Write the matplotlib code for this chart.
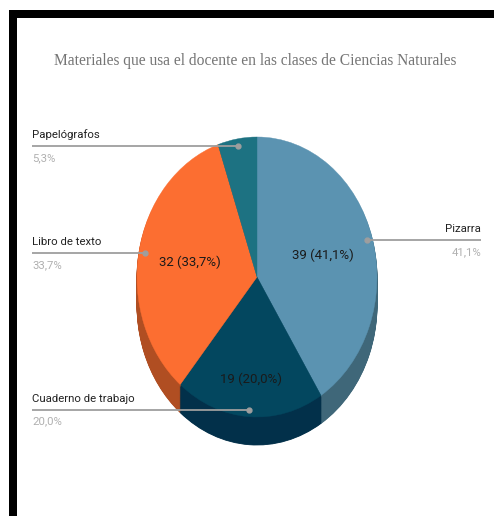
import numpy as np
import matplotlib.pyplot as plt
from matplotlib.patches import Rectangle

# Datos
titulo = 'Materiales que usa el docente en las clases de Ciencias Naturales'
categorias = ['Pizarra', 'Cuaderno de trabajo', 'Libro de texto', 'Papelógrafos']
valores = [39, 19, 32, 5]

colores = ['#5b93b1', '#03475f', '#fc6e31', '#1d7282']
colores_lado = ['#3f6779', '#02304a', '#b04e22', '#124f5b']

total = sum(valores)
porcentajes = [f'{v / total * 100:.1f}%'.replace('.', ',') for v in valores]

W, H = 494, 516
fig = plt.figure(figsize=(W / 100, H / 100), dpi=100)
fig.patch.set_facecolor('white')

# ejes de la torta: centro (257, 277) px, radios 120 x 140 px, profundidad 28 px
cx, cy, rx, ry = 257, H - 277, 120, 140
prof = 0.2
ax = fig.add_axes([(cx - 1.1 * rx) / W, (cy - 1.3 * ry) / H, 2.2 * rx / W, 2.4 * ry / H])

# lado (extrusion 3D)
for k in np.linspace(-prof, -0.012, 40):
    capa, _ = ax.pie(valores, colors=colores_lado, startangle=90, counterclock=False,
                     center=(0, k), wedgeprops=dict(linewidth=0.6))
    for c, col in zip(capa, colores_lado):
        c.set_edgecolor(col)
# cara superior
wedges, _ = ax.pie(valores, colors=colores, startangle=90, counterclock=False,
                   wedgeprops=dict(linewidth=0.3))
for c, col in zip(wedges, colores):
    c.set_edgecolor(col)
ax.set_aspect('auto')
ax.set_xlim(-1.1, 1.1)
ax.set_ylim(-1.3, 1.1)
ax.axis('off')

# etiquetas internas
dist_interna = [0.57, 0.73, 0.57, 0.57]
for i, w in enumerate(wedges):
    if valores[i] / total < 0.1:
        continue
    ang = np.deg2rad((w.theta1 + w.theta2) / 2)
    ax.text(dist_interna[i] * np.cos(ang), dist_interna[i] * np.sin(ang),
            f'{valores[i]} ({porcentajes[i]})', ha='center', va='center',
            fontsize=9.5, color='#1a1a1a', family=['Roboto', 'DejaVu Sans'])

# capa superior en pixeles
ov = fig.add_axes([0, 0, 1, 1])
ov.set_xlim(0, W)
ov.set_ylim(0, H)
ov.axis('off')
ov.patch.set_alpha(0)

fuente = ['Roboto', 'DejaVu Sans']
for i, w in enumerate(wedges):
    ang = np.deg2rad((w.theta1 + w.theta2) / 2)
    px, py = ax.transData.transform((0.95 * np.cos(ang), 0.95 * np.sin(ang)))
    if px < cx + 20:
        x0, x1, xt, ha = 32, px, 32, 'left'
    else:
        x0, x1, xt, ha = px, 481, 481, 'right'
    ov.plot([x0, x1], [py, py], color='#9e9e9e', lw=1.3, solid_capstyle='butt')
    ov.plot([px], [py], 'o', color='#9e9e9e', ms=3.5)
    ov.text(xt, py + 11, categorias[i], ha=ha, va='center', fontsize=8.2,
            color='#222222', family=fuente)
    ov.text(xt, py - 12, porcentajes[i], ha=ha, va='center', fontsize=8.2,
            color='#b0b0b0', family=fuente)

ov.text(255, H - 61, titulo, ha='center', va='center', fontsize=11.2,
        color='#757575', family=['Liberation Serif', 'DejaVu Serif'])

# marco negro
ov.add_patch(Rectangle((9, H - 18), W - 9, 8, color='black', lw=0))
ov.add_patch(Rectangle((9, 0), 8, H - 10, color='black', lw=0))

fig.savefig('out.png', dpi=100)
